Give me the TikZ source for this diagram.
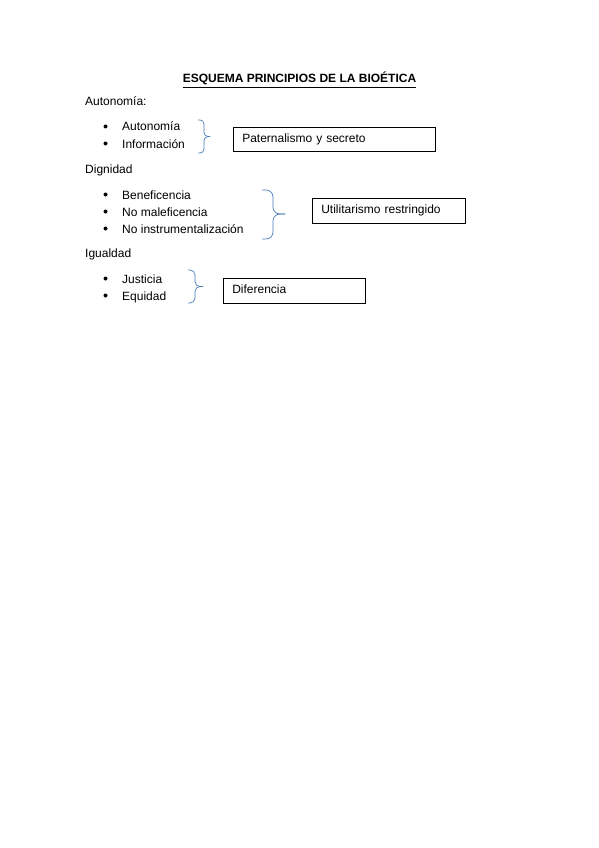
\documentclass[tikz,border=0pt]{standalone}
\usepackage{fontspec}
\setmainfont{Liberation Sans}
\usepackage{tikz}
\definecolor{llave}{HTML}{4A7EBB}

\begin{document}
\begin{tikzpicture}[x=1pt,y=-1pt,every node/.append style={font=\fontsize{12}{14}\selectfont,
                    inner sep=0,anchor=base west},
                    vineta/.style={fill=black,circle,minimum size=4pt,anchor=center},
                    caja/.style={draw,line width=.6pt,anchor=north west,inner xsep=9pt,
                    text height=8.6pt,text depth=2.6pt,align=left},
                    llaves/.style={draw=llave,line width=.7pt}]
    \useasboundingbox (0,0) rectangle (599,848);
    \node[font=\bfseries\fontsize{12}{14}\selectfont,anchor=base] (titulo) at (299.5,83)
         {ESQUEMA PRINCIPIOS DE LA BIOÉTICA};
    \draw[line width=.9pt] ([yshift=-4.6pt]titulo.base west) -- ([yshift=-4.6pt]titulo.base east);
    \node (autonomia) at (85,106) {Autonomía:};
    \node (dignidad) at (85,173) {Dignidad};
    \node (igualdad) at (85,257) {Igualdad};
    \foreach \y in {131,148,199,216,233,283,300}
        \node[vineta] (v\y) at (105.5,\y-4.5) {};
    \node (autonomia1) at (122,131) {Autonomía};
    \node (informacion) at (122,148) {Información};
    \node (beneficencia) at (122,199) {Beneficencia};
    \node (nomaleficencia) at (122,216) {No maleficencia};
    \node (noinstrumental) at (122,233) {No instrumentalización};
    \node (justicia) at (122,283) {Justicia};
    \node (equidad) at (122,300) {Equidad};
    \node[caja,text width=184pt,minimum height=24pt] (paternalismo) at (233,127)
         {Paternalismo y secreto};
    \node[caja,text width=135pt,minimum height=25pt] (utilitarismo) at (312,198)
         {Utilitarismo restringido};
    \node[caja,text width=124pt,minimum height=25pt] (diferencia) at (223,278)
         {Diferencia};
    \coordinate (l1a) at (198,120);   \coordinate (l1b) at (198,153);
    \coordinate (l1m) at (204,136.5); \coordinate (l1p) at (210,136.5);
    \coordinate (l2a) at (262,190);   \coordinate (l2b) at (262,239);
    \coordinate (l2m) at (273,214);   \coordinate (l2p) at (285,214);
    \coordinate (l3a) at (188,270);   \coordinate (l3b) at (188,303);
    \coordinate (l3m) at (195,286.5); \coordinate (l3p) at (203,286.5);
    \begin{scope}[llaves]
      \draw[rounded corners=4pt] (l1a) -| (l1m) -- (l1p);
      \draw[rounded corners=4pt] (l1b) -| (l1m) -- (l1p);
      \draw[rounded corners=7pt] (l2a) -| (l2m) -- (l2p);
      \draw[rounded corners=7pt] (l2b) -| (l2m) -- (l2p);
      \draw[rounded corners=5pt] (l3a) -| (l3m) -- (l3p);
      \draw[rounded corners=5pt] (l3b) -| (l3m) -- (l3p);
    \end{scope}
\end{tikzpicture}
\end{document}
